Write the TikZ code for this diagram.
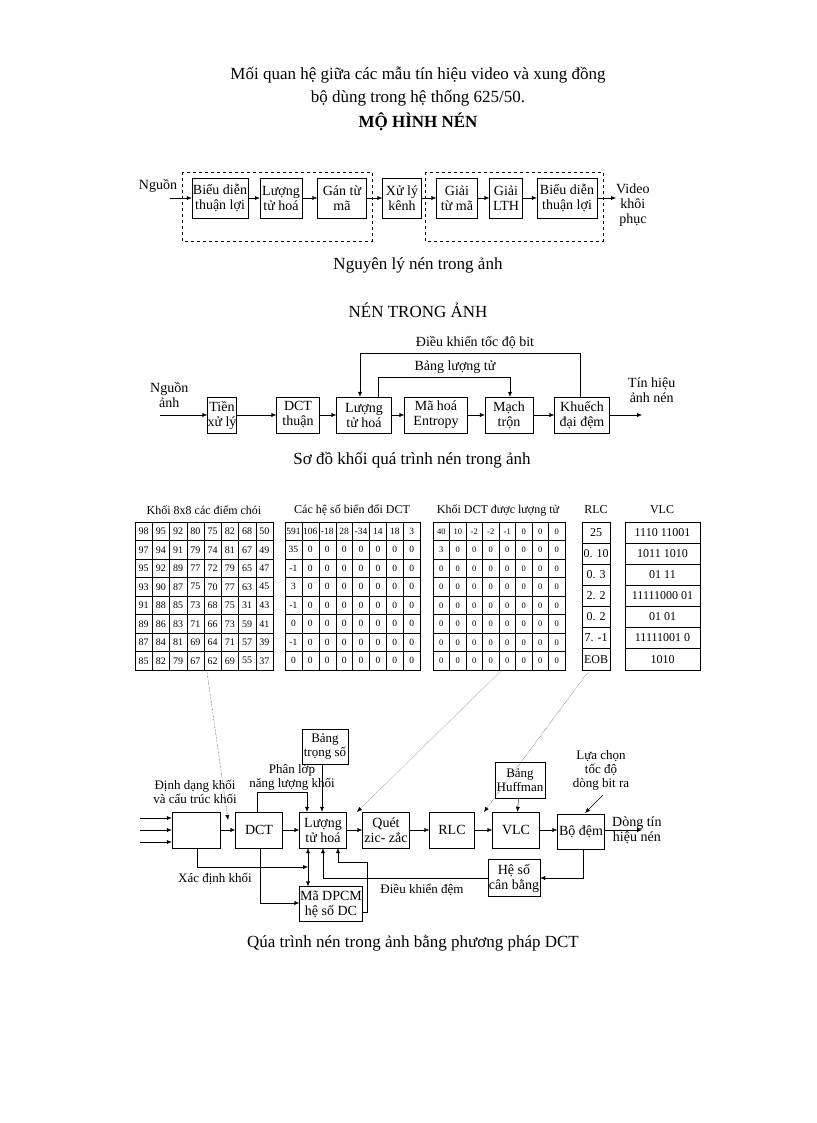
\documentclass[tikz,border=0pt]{standalone}
\usepackage{fontspec}
\setmainfont{Liberation Serif}
\usetikzlibrary{arrows.meta}
\begin{document}
\begin{tikzpicture}[x=1pt,y=-1pt,
 bx/.style={draw,inner sep=0pt,align=center,font=\fontsize{14}{15}\selectfont},
 lb/.style={inner sep=0pt,align=center,font=\fontsize{14}{15}\selectfont},
 sm/.style={inner sep=0pt,align=center,font=\fontsize{13}{14}\selectfont},
 big/.style={inner sep=0pt,align=center,font=\fontsize{17}{18}\selectfont},
 ar/.style={-{Latex[length=5pt,width=4pt]}},
 dt/.style={densely dotted,-{Latex[length=5pt,width=4pt]}},
 cell/.style={font=\fontsize{10}{10}\selectfont,inner sep=0pt}]
\useasboundingbox (0,0) rectangle (816,1123);
% titles
\node[big] (t1) at (418,75) {Mối quan hệ giữa các mẫu tín hiệu video và xung đồng};
\node[big] (t2) at (418,98) {bộ dùng trong hệ thống 625/50.};
\node[big,font=\bfseries\fontsize{17}{18}\selectfont] (t3) at (418,122) {MỘ HÌNH NÉN};
% diagram 1
\draw[dashed] (182,172) rectangle (372,241);
\draw[dashed] (425,172) rectangle (603,241);
\node[lb] (src) at (158,186) {Nguồn};
\coordinate (srcin) at (170,198);
\node[bx,minimum width=56,minimum height=40] (a1) at (220,198) {Biểu diễn\\thuận lợi};
\node[bx,minimum width=42,minimum height=40] (a2) at (281,198) {Lượng\\tử hoá};
\node[bx,minimum width=49,minimum height=40] (a3) at (342,198) {Gán từ\\mã};
\node[bx,minimum width=39,minimum height=40] (a4) at (402,198) {Xử lý\\kênh};
\node[bx,minimum width=41,minimum height=40] (a5) at (457,198) {Giải\\từ mã};
\node[bx,minimum width=33,minimum height=40] (a6) at (506,198) {Giải\\LTH};
\node[bx,minimum width=60,minimum height=40] (a7) at (567,198) {Biểu diễn\\thuận lợi};
\node[lb,anchor=west] (vid) at (616,205) {Video\\khôi\\phục};
\draw[ar] (srcin) -- (a1);
\draw[ar] (a1) -- (a2); \draw[ar] (a2) -- (a3); \draw[ar] (a3) -- (a4);
\draw[ar] (a4) -- (a5); \draw[ar] (a5) -- (a6); \draw[ar] (a6) -- (a7);
\draw[ar] (a7.east) -- (vid.west|-a7.east);
\node[big] (c1) at (418,265) {Nguyên lý nén trong ảnh};
\node[big] (t4) at (418,310) {NÉN TRONG ẢNH};
% diagram 2
\node[lb,anchor=west] (src2) at (150,395) {Nguồn\\ảnh};
\coordinate (in2) at (160,415);
\node[bx,minimum width=29,minimum height=36] (b1) at (222,415) {Tiền\\xử lý};
\node[bx,minimum width=43,minimum height=36] (b2) at (298,415) {DCT\\thuận};
\node[bx,minimum width=55,minimum height=36] (b3) at (364,415) {Lượng\\tử hoá};
\node[bx,minimum width=63,minimum height=36] (b4) at (436,415) {Mã hoá\\Entropy};
\node[bx,minimum width=48,minimum height=36] (b5) at (509,415) {Mạch\\trộn};
\node[bx,minimum width=55,minimum height=36] (b6) at (582,415) {Khuếch\\đại đệm};
\node[lb,anchor=west] (out2) at (628,390) {Tín hiệu\\ảnh nén};
\coordinate (o2) at (642,415);
\draw[ar] (in2) -- (b1); \draw[ar] (b1) -- (b2); \draw[ar] (b2) -- (b3);
\draw[ar] (b3) -- (b4); \draw[ar] (b4) -- (b5); \draw[ar] (b5) -- (b6);
\draw[ar] (b6) -- (o2);
\draw[ar] (b6.north-|580,0) -- (580,353) -- (360,353) -- (360,0|-b3.north);
\draw[ar] (b3.north-|378,0) -- (378,377) -- (510,377) -- (510,0|-b5.north);
\node[lb] (l1) at (475,343) {Điều khiển tốc độ bit};
\node[lb] (l2) at (455,367) {Bảng lượng tử};
\node[big] (c2) at (412,460) {Sơ đồ khối quá trình nén trong ảnh};
% tables
\node[sm,font=\fontsize{12}{12}\selectfont] (h1) at (204,510) {Khối 8x8 các điểm chói};
\node[sm,font=\fontsize{12}{12}\selectfont] (h2) at (352,510) {Các hệ số biến đổi DCT};
\node[sm,font=\fontsize{12}{12}\selectfont] (h3) at (498,510) {Khối DCT được lượng tử};
\node[sm,font=\fontsize{12}{12}\selectfont] (h4) at (596,510) {RLC};
\node[sm,font=\fontsize{12}{12}\selectfont] (h5) at (662,510) {VLC};
\foreach \r/\row in {0/{98,95,92,80,75,82,68,50},1/{97,94,91,79,74,81,67,49},2/{95,92,89,77,72,79,65,47},3/{93,90,87,75,70,77,63,45},4/{91,88,85,73,68,75,31,43},5/{89,86,83,71,66,73,59,41},6/{87,84,81,69,64,71,57,39},7/{85,82,79,67,62,69,55,37}}{
  \foreach \v [count=\c from 0] in \row {
    \draw (135+\c*17.25,522+\r*18.5) rectangle ++(17.25,18.5);
    \node[cell] at (135+\c*17.25+8.6,522+\r*18.5+9.25) {\v};}}
\foreach \r/\row in {0/{591,106,-18,28,-34,14,18,3},1/{35,0,0,0,0,0,0,0},2/{-1,0,0,0,0,0,0,0},3/{3,0,0,0,0,0,0,0},4/{-1,0,0,0,0,0,0,0},5/{0,0,0,0,0,0,0,0},6/{-1,0,0,0,0,0,0,0},7/{0,0,0,0,0,0,0,0}}{
  \foreach \v [count=\c from 0] in \row {
    \draw (285+\c*16.9,522+\r*18.5) rectangle ++(16.9,18.5);
    \node[cell,font=\fontsize{9.5}{10}\selectfont] at (285+\c*16.9+8.45,522+\r*18.5+9.25) {\v};}}
\foreach \r/\row in {0/{40,10,-2,-2,-1,0,0,0},1/{3,0,0,0,0,0,0,0},2/{0,0,0,0,0,0,0,0},3/{0,0,0,0,0,0,0,0},4/{0,0,0,0,0,0,0,0},5/{0,0,0,0,0,0,0,0},6/{0,0,0,0,0,0,0,0},7/{0,0,0,0,0,0,0,0}}{
  \foreach \v [count=\c from 0] in \row {
    \draw (433+\c*16.5,522+\r*18.5) rectangle ++(16.5,18.5);
    \node[cell,font=\fontsize{8.5}{10}\selectfont] at (433+\c*16.5+8.25,522+\r*18.5+9.25) {\v};}}
\foreach \v [count=\r from 0] in {25,0. 10,0. 3,2. 2,0. 2,7. -1,EOB}{
  \draw (582,522+\r*21.1) rectangle ++(28,21.1);
  \node[cell,font=\fontsize{12}{12}\selectfont] at (596,522+\r*21.1+10.5) {\v};}
\foreach \v [count=\r from 0] in {1110 11001,1011 1010,01 11,11111000 01,01 01,11111001 0,1010}{
  \draw (625,522+\r*21.1) rectangle ++(75,21.1);
  \node[cell,font=\fontsize{12}{12}\selectfont] at (662.5,522+\r*21.1+10.5) {\v};}
\coordinate (p1) at (207,672); \coordinate (p3) at (500,672); \coordinate (p4) at (588,672);
% bottom diagram
\node[bx,minimum width=48,minimum height=36] (d0) at (196,830) {};
\node[bx,minimum width=47,minimum height=36] (d1) at (259,830) {DCT};
\node[bx,minimum width=47,minimum height=36] (d2) at (323,830) {Lượng\\tử hoá};
\node[bx,minimum width=47,minimum height=36] (d3) at (386,830) {Quét\\zic- zắc};
\node[bx,minimum width=45,minimum height=36] (d4) at (452,830) {RLC};
\node[bx,minimum width=47,minimum height=36] (d5) at (516,830) {VLC};
\node[bx,minimum width=47,minimum height=35] (d6) at (581,832) {Bộ đệm};
\node[bx,minimum width=50,minimum height=36,font=\fontsize{13}{14}\selectfont] (d7) at (520,780) {Bảng\\Huffman};
\node[bx,minimum width=46,minimum height=35,font=\fontsize{13}{14}\selectfont] (d8) at (325,747) {Bảng\\trọng số};
\node[bx,minimum width=52,minimum height=37] (d9) at (514,878) {Hệ số\\cân bằng};
\node[bx,minimum width=63,minimum height=35] (d10) at (331,904) {Mã DPCM\\hệ số DC};
\foreach \yy/\nm in {818/i1,830/i2,842/i3}{\coordinate (\nm) at (140,\yy); \draw[ar] (\nm) -- (\nm-|d0.west);}
\draw[ar] (d0) -- (d1); \draw[ar] (d1) -- (d2); \draw[ar] (d2) -- (d3);
\draw[ar] (d3) -- (d4); \draw[ar] (d4) -- (d5); \draw[ar] (d5) -- (d6.west|-d5);
\coordinate (o3) at (642,830);
\draw[ar] (d6.east|-o3) -- (o3);
\node[lb,anchor=west] (lo3) at (612,830) {Dòng tín\\hiệu nén};
\draw[ar] (d7) -- (d5);
\draw[ar] (d8.south-|322,0) -- (322,0|-d2.north);
\draw[ar] (d1.north-|257,0) -- (257,792) -- (307,792) -- (307,0|-d2.north);
\node[sm] (lpl) at (292,777) {Phân lớp\\năng lượng khối};
\node[sm] (ldd) at (195,792) {Định dạng khối\\và cấu trúc khối};
\coordinate (j1) at (308,867);
\draw[ar] (d0.south-|197,0) -- (197,867) -- (j1);
\draw[ar] (j1) -- (308,0|-d2.south);
\draw[ar] (j1) -- (308,0|-d10.north);
\node[sm] (lxd) at (215,879) {Xác định khối};
\draw[ar] (d1.south-|260,0) -- (260,903) -- (d10.west|-0,903);
\draw[ar] (d10.east|-0,912) -| (367,862) -- (338,862) -- (338,0|-d2.south);
\draw[ar] (d6.south-|583,0) -- (583,878) -- (d9.east|-0,878);
\draw[ar] (d9.west|-0,878) -- (323,878) -- (323,0|-d2.south);
\node[sm] (ldk) at (422,890) {Điều khiển đệm};
\node[sm] (llc) at (601,770) {Lựa chọn\\tốc độ\\dòng bit ra};
\draw[ar] (603,795) -- (585,813);
\draw[dt] (p1) -- (228,820);
\draw[dt] (p3) -- (357,812);
\draw[dt] (p4) -- (484,812);
\node[big] (c3) at (413,943) {Qúa trình nén trong ảnh bằng phương pháp DCT};
\end{tikzpicture}
\end{document}
